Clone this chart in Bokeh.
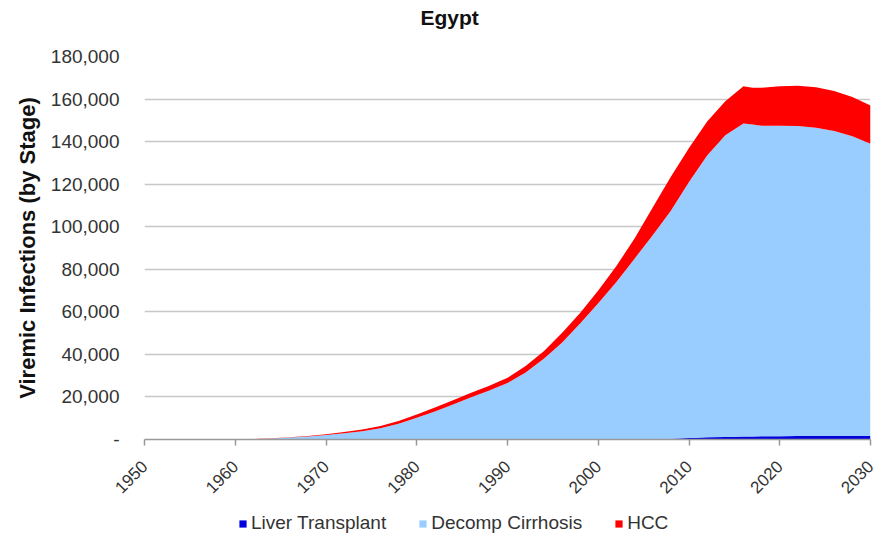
import math
from bokeh.plotting import figure
from bokeh.layouts import column
from bokeh.models import (ColumnDataSource, FixedTicker, NumeralTickFormatter,
                          Legend, LegendItem, Range1d)
from bokeh.embed import file_html
from bokeh.resources import INLINE

# ---- data ----
years = [1950, 1955, 1960, 1962, 1964, 1966, 1968, 1970, 1972, 1974, 1976, 1978,
         1980, 1982, 1984, 1986, 1988, 1990, 1992, 1994, 1996, 1998, 2000, 2002,
         2004, 2006, 2008, 2010, 2012, 2014, 2016, 2017, 2018, 2020, 2022, 2024,
         2026, 2028, 2030]
liver_transplant = [0, 0, 0, 0, 0, 0, 0, 0, 0, 0, 0, 0,
                    0, 0, 0, 0, 0, 0, 0, 0, 0, 0, 0, 0,
                    0, 150, 400, 700, 1000, 1200, 1400, 1400, 1500, 1500, 1600, 1600,
                    1600, 1600, 1600]
decomp_cirrhosis = [0, 0, 0, 150, 450, 950, 1450, 2100, 2900, 3900, 5300, 7400,
                    10200, 13200, 16400, 19800, 23000, 26500, 31500, 38000, 45500, 54500, 64000, 74000,
                    85000, 95850, 107100, 120300, 132500, 141800, 147100, 146600, 146000, 146000, 145700, 144900,
                    143400, 140900, 137400]
hcc = [0, 0, 0, 50, 100, 150, 250, 400, 600, 800, 1000, 1300,
       1600, 1800, 2000, 2200, 2300, 2500, 3000, 3500, 4500, 5000, 6000, 7500,
       9500, 13000, 16000, 16000, 16000, 16000, 17500, 17300, 17800, 18500, 19000, 19000,
       18800, 18500, 18000]

series_names = ["Liver Transplant", "Decomp Cirrhosis", "HCC"]
series_colors = ["#0000DD", "#99CCFF", "#FF0000"]
x_ticks = [1950, 1960, 1970, 1980, 1990, 2000, 2010, 2020, 2030]
y_ticks = [0, 20000, 40000, 60000, 80000, 100000, 120000, 140000, 160000, 180000]
chart_title = "Egypt"
y_title = "Viremic Infections (by Stage)"

FONT = "Liberation Sans"
W = 880

src = ColumnDataSource(dict(year=years, lt=liver_transplant, dc=decomp_cirrhosis, hcc=hcc))

# ---- title strip ----
p0 = figure(width=W, height=32, output_backend="svg", toolbar_location=None,
            x_axis_location=None, y_axis_location=None,
            x_range=Range1d(0, 1), y_range=Range1d(0, 1), min_border=0)
p0.outline_line_color = None
p0.grid.visible = False
p0.title.text = chart_title
p0.title.align = "left"
p0.title.offset = 276
p0.title.standoff = 6
p0.title.vertical_align = "bottom"
p0.title.text_font = FONT
p0.title.text_font_size = "21px"
p0.title.text_font_style = "bold"
p0.title.text_color = "#111111"

# ---- main chart ----
p = figure(width=W, height=470, output_backend="svg", toolbar_location=None,
           x_range=Range1d(1950, 2030), y_range=Range1d(0, 180000),
           min_border_left=144, min_border_right=10, min_border_top=24,
           min_border_bottom=63)
p.outline_line_color = None
p.background_fill_color = "white"

renderers = p.varea_stack(["lt", "dc", "hcc"], x="year", color=series_colors, source=src)

# grid
p.xgrid.grid_line_color = None
p.ygrid.grid_line_color = "#c8c8c8"
p.ygrid.grid_line_width = 1.5
p.ygrid.ticker = FixedTicker(ticks=y_ticks)

# y axis
p.yaxis.ticker = FixedTicker(ticks=y_ticks)
p.yaxis.formatter = NumeralTickFormatter(format="0,0")
p.yaxis.major_label_overrides = {0: "-"}
p.yaxis.axis_line_color = None
p.yaxis.major_tick_line_color = None
p.yaxis.major_tick_in = 0
p.yaxis.major_tick_out = 0
p.yaxis.minor_tick_line_color = None
p.yaxis.major_label_standoff = 25
p.yaxis.major_label_text_font = FONT
p.yaxis.major_label_text_font_size = "19px"
p.yaxis.major_label_text_color = "#333333"
p.yaxis.axis_label = y_title
p.yaxis.axis_label_text_font = FONT
p.yaxis.axis_label_text_font_size = "22px"
p.yaxis.axis_label_text_font_style = "bold"
p.yaxis.axis_label_text_color = "#111111"
p.yaxis.axis_label_standoff = 8

# x axis
p.xaxis.ticker = FixedTicker(ticks=x_ticks)
p.xaxis.major_label_orientation = math.pi / 4
p.xaxis.axis_line_color = "#999999"
p.xaxis.axis_line_width = 1.5
p.xaxis.major_tick_line_color = "#999999"
p.xaxis.major_tick_line_width = 1.5
p.xaxis.major_tick_in = 0
p.xaxis.major_tick_out = 6
p.xaxis.minor_tick_line_color = None
p.xaxis.major_label_text_font = FONT
p.xaxis.major_label_text_font_size = "17px"
p.xaxis.major_label_text_color = "#333333"
p.xaxis.major_label_standoff = 18

# ---- legend strip below the chart ----
p2 = figure(width=W, height=38, output_backend="svg", toolbar_location=None,
            x_axis_location=None, y_axis_location=None,
            x_range=Range1d(0, 1), y_range=Range1d(0, 1), min_border=0)
p2.outline_line_color = None
p2.grid.visible = False
# zero-height proxies of the three series (only used for the legend swatches)
swatches = [p2.varea(x="year", y1=col, y2=col, source=src, color=c)
            for col, c in zip(["lt", "dc", "hcc"], series_colors)]
legend = Legend(items=[LegendItem(label=n, renderers=[r]) for n, r in zip(series_names, swatches)],
                orientation="horizontal", location=(94, 6),
                glyph_width=9, glyph_height=9, label_standoff=4, spacing=32,
                padding=2, margin=0, label_text_font=FONT, label_text_font_size="19px",
                label_text_color="#333333", border_line_color=None,
                background_fill_alpha=0)
p2.add_layout(legend, "center")

layout = column(p0, p, p2, spacing=0)
open("out.html", "w").write(file_html(layout, INLINE))
